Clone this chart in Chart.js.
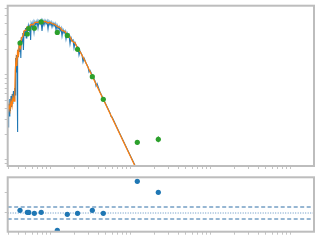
<!DOCTYPE html>
<html>
<head>
<meta charset="utf-8">
<script src="https://cdn.jsdelivr.net/npm/chart.js@4/dist/chart.umd.min.js"></script>
<style>
  body { margin: 0; background: #fff; }
  #wrap { position: relative; width: 320px; height: 240px; }
  canvas { position: absolute; left: 0; }
  #sedChart { top: 0; }
  #residChart { top: 172px; }
</style>
</head>
<body>
<div id="wrap">
  <canvas id="sedChart" width="320" height="172"></canvas>
  <canvas id="residChart" width="320" height="68"></canvas>
</div>
<script>
// all values are log10: wavelength in micron, flux in erg/s/cm2

// full resolution model spectrum (blue)
const modelWave = [-0.529, -0.525, -0.5175, -0.51, -0.5025, -0.495, -0.4875, -0.48, -0.4725, -0.465,
  -0.4575, -0.45, -0.4425, -0.436, -0.4325, -0.4275, -0.4225, -0.4175, -0.4125, -0.4075,
  -0.4025, -0.395, -0.3875, -0.38, -0.3725, -0.365, -0.359, -0.35, -0.34, -0.3325,
  -0.325, -0.315, -0.306, -0.2975, -0.29, -0.28, -0.271, -0.26, -0.25, -0.2425,
  -0.235, -0.2225, -0.2125, -0.2, -0.1875, -0.175, -0.1625, -0.15, -0.1375, -0.125,
  -0.1125, -0.1, -0.0875, -0.075, -0.0625, -0.05, -0.0375, -0.025, -0.0125, 0,
  0.0125, 0.025, 0.0375, 0.05, 0.0625, 0.075, 0.0875, 0.1, 0.1125, 0.125,
  0.1375, 0.15, 0.1625, 0.175, 0.1875, 0.2, 0.2125, 0.225, 0.2375, 0.25,
  0.2625, 0.275, 0.2875, 0.3, 0.3125, 0.33, 0.35, 0.3625, 0.375, 0.4,
  0.4125, 0.425, 0.45, 0.475, 0.4875, 0.5, 0.5625, 0.575, 0.5875, 0.625,
  0.75, 0.7625, 0.775, 0.875, 1.0, 1.125];
const modelFlux = [-12.294, -12.612, -12.341, -12.482, -12.282, -12.424, -12.247, -12.376, -12.224, -12.341,
  -12.188, -12.294, -12.153, -12.235, -11.918, -11.8, -11.965, -11.765, -11.847, -12.671,
  -11.706, -11.788, -11.647, -11.729, -11.588, -11.8, -11.553, -11.612, -11.506, -11.706,
  -11.482, -11.541, -11.447, -11.565, -11.435, -11.482, -11.418, -11.471, -11.406, -11.588,
  -11.394, -11.435, -11.382, -11.494, -11.376, -11.412, -11.365, -11.447, -11.365, -11.4,
  -11.358, -11.482, -11.365, -11.412, -11.358, -11.4, -11.365, -11.459, -11.371, -11.412,
  -11.376, -11.435, -11.388, -11.424, -11.394, -11.471, -11.412, -11.459, -11.429, -11.482,
  -11.447, -11.541, -11.465, -11.506, -11.482, -11.576, -11.506, -11.553, -11.529, -11.635,
  -11.559, -11.6, -11.588, -11.682, -11.618, -11.659, -11.671, -11.765, -11.718, -11.765,
  -11.847, -11.8, -11.859, -11.906, -11.965, -11.947, -12.071, -12.129, -12.1, -12.2,
  -12.447, -12.488, -12.494, -12.694, -12.941, -13.188];

// smoothed model (orange)
const binnedWave = [-0.529, -0.5125, -0.5, -0.4875, -0.475, -0.4625, -0.45, -0.44, -0.434, -0.425,
  -0.415, -0.406, -0.394, -0.384, -0.369, -0.356, -0.3375, -0.325, -0.3, -0.2875,
  -0.2625, -0.2375, -0.2125, -0.1875, -0.15, -0.125, -0.0875, -0.0625, -0.025, 0,
  0.0375, 0.0625, 0.1, 0.125, 0.15, 0.1875, 0.2125, 0.25, 0.275, 0.3125,
  0.35, 0.375, 0.4375, 0.5, 0.625, 0.75, 0.875, 1.0, 1.125];
const binnedFlux = [-12.435, -12.353, -12.412, -12.306, -12.365, -12.259, -12.306, -12.2, -11.941, -11.824,
  -11.894, -11.729, -11.765, -11.647, -11.682, -11.565, -11.541, -11.482, -11.471, -11.435,
  -11.441, -11.406, -11.412, -11.382, -11.382, -11.371, -11.376, -11.371, -11.388, -11.382,
  -11.4, -11.406, -11.435, -11.441, -11.476, -11.488, -11.529, -11.553, -11.6, -11.624,
  -11.694, -11.724, -11.835, -11.959, -12.206, -12.453, -12.7, -12.947, -13.194];

// photometry (green) with errors in dex
const photWave = [-0.375, -0.284, -0.266, -0.196, -0.110, 0.091, 0.216, 0.344, 0.529, 0.666, 1.091, 1.354];
const photFlux = [-11.624, -11.518, -11.453, -11.449, -11.376, -11.500, -11.535, -11.698, -12.020, -12.286, -12.792, -12.757];
const photErr = [0.012, 0.01, 0.01, 0.01, 0.01, 0.01, 0.01, 0.012, 0.012, 0.015, 0.025, 0.035];

// residuals of photometry vs model
const residuals = [0.135, 0.035, 0.03, -0.015, 0.035, -0.865, -0.065, -0.015, 0.135, -0.015, 1.585, 1.035];
const residLevels = [-0.3, 0, 0.3];
const residTicks = [0, 1];

const waveRange = [-0.529, 3.3];
const fluxRange = [-13.071, -11.185];
const residRange = [-0.935, 1.785];

function logTicks(min, max) {
  const ticks = [];
  for (let n = Math.floor(min); n <= Math.ceil(max); n++) {
    for (let k = 1; k <= 9; k++) {
      const v = n + Math.log10(k);
      if (v >= min && v <= max) ticks.push({ value: v });
    }
  }
  return ticks;
}

function toPoints(xs, ys) {
  return xs.map((x, i) => ({ x: x, y: ys[i] }));
}

const framePlugin = {
  id: 'frame',
  afterDraw(chart) {
    const a = chart.chartArea;
    const ctx = chart.ctx;
    ctx.save();
    ctx.strokeStyle = '#bdbdbd';
    ctx.lineWidth = 2;
    ctx.strokeRect(a.left, a.top, a.right - a.left, a.bottom - a.top);
    ctx.restore();
  }
};

const errorBarPlugin = {
  id: 'errorBars',
  beforeDatasetsDraw(chart) {
    const xs = chart.scales.x, ys = chart.scales.y;
    const ctx = chart.ctx;
    ctx.save();
    ctx.strokeStyle = '#2ca02c';
    ctx.lineWidth = 1;
    photWave.forEach((w, i) => {
      const px = xs.getPixelForValue(w);
      ctx.beginPath();
      ctx.moveTo(px, ys.getPixelForValue(photFlux[i] - photErr[i]));
      ctx.lineTo(px, ys.getPixelForValue(photFlux[i] + photErr[i]));
      ctx.stroke();
    });
    ctx.restore();
  }
};

function axis(range, buildTicks) {
  return {
    type: 'linear',
    min: range[0],
    max: range[1],
    afterBuildTicks: s => { s.ticks = buildTicks(s); },
    ticks: { display: false },
    grid: { drawOnChartArea: false, drawTicks: true, tickLength: 3, tickColor: '#c4c4c4' },
    border: { display: false }
  };
}

function drawSed() {
  const ctx = document.getElementById('sedChart').getContext('2d');
  new Chart(ctx, {
    type: 'scatter',
    data: {
      datasets: [
        {
          label: 'Photometry',
          data: toPoints(photWave, photFlux),
          pointRadius: 2.6,
          backgroundColor: '#2ca02c',
          borderWidth: 0
        },
        {
          label: 'Binned model',
          data: toPoints(binnedWave, binnedFlux),
          showLine: true,
          borderColor: '#ff7f0e',
          borderWidth: 1.3,
          pointRadius: 0
        },
        {
          label: 'Model',
          data: toPoints(modelWave, modelFlux),
          showLine: true,
          borderColor: '#1f77b4',
          borderWidth: 1.1,
          pointRadius: 0
        }
      ]
    },
    options: {
      animation: false,
      responsive: false,
      events: [],
      layout: { padding: { left: 4.7, top: 5.7, right: 6, bottom: 3 }, autoPadding: false },
      plugins: { legend: { display: false }, tooltip: { enabled: false } },
      scales: {
        x: axis(waveRange, s => logTicks(s.min, s.max)),
        y: axis(fluxRange, s => logTicks(s.min, s.max))
      }
    },
    plugins: [errorBarPlugin, framePlugin]
  });
}

function drawResiduals() {
  const ctx = document.getElementById('residChart').getContext('2d');
  const levelSets = residLevels.map(level => ({
    label: 'level ' + level,
    data: [{ x: waveRange[0], y: level }, { x: waveRange[1], y: level }],
    showLine: true,
    borderColor: level === 0 ? '#5b8fc0' : '#2f6ea6',
    borderWidth: 1,
    borderDash: level === 0 ? [1, 1.5] : [4, 2.5],
    pointRadius: 0
  }));
  new Chart(ctx, {
    type: 'scatter',
    data: {
      datasets: [
        {
          label: 'Residuals',
          data: toPoints(photWave, residuals),
          pointRadius: 2.6,
          backgroundColor: '#1f77b4',
          borderWidth: 0
        }
      ].concat(levelSets)
    },
    options: {
      animation: false,
      responsive: false,
      events: [],
      layout: { padding: { left: 4.7, top: 5.3, right: 6, bottom: 5.3 }, autoPadding: false },
      plugins: { legend: { display: false }, tooltip: { enabled: false } },
      scales: {
        x: axis(waveRange, s => logTicks(s.min, s.max)),
        y: axis(residRange, () => residTicks.map(v => ({ value: v })))
      }
    },
    plugins: [framePlugin]
  });
}

window.onload = () => {
  drawSed(); drawResiduals();
};
</script>
</body>
</html>
